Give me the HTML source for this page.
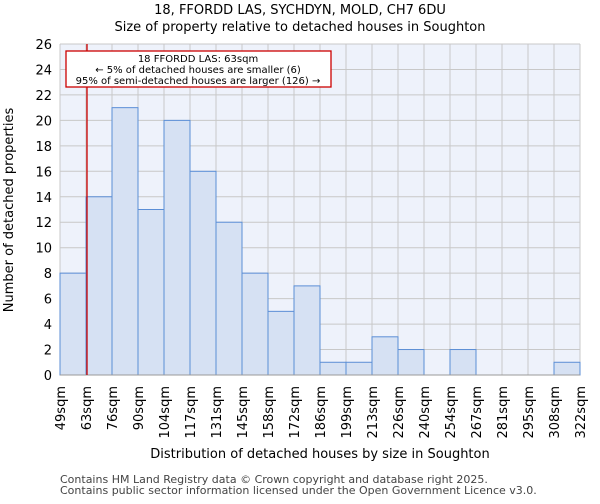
<!DOCTYPE html>
<html><head><meta charset="utf-8"><style>
body{margin:0;background:#fff;font-family:"DejaVu Sans","Liberation Sans",sans-serif}
</style></head><body>
<svg id="chart" width="600" height="500" xmlns="http://www.w3.org/2000/svg" font-family="DejaVu Sans, Liberation Sans, sans-serif">
<text x="300" y="14" text-anchor="middle" font-size="13">18, FFORDD LAS, SYCHDYN, MOLD, CH7 6DU</text>
<text x="300" y="31" text-anchor="middle" font-size="13">Size of property relative to detached houses in Soughton</text>
<rect x="60" y="44" width="520" height="331" fill="#eef2fb"/>
<g id="grid"></g>
<g id="bars"></g>
<g id="yticks"></g>
<g id="xticks"></g>
<line x1="60" y1="375" x2="580" y2="375" stroke="#999"/>
<line id="marker" y1="44" y2="375" stroke="#cc0000" stroke-width="1.3"/>
<g>
<rect x="66" y="51" width="265" height="36" fill="#fff" stroke="#cc0000" stroke-width="1.3"/>
<text x="198" y="62" text-anchor="middle" font-size="10">18 FFORDD LAS: 63sqm</text>
<text x="198" y="73" text-anchor="middle" font-size="10">← 5% of detached houses are smaller (6)</text>
<text x="198" y="84" text-anchor="middle" font-size="10">95% of semi-detached houses are larger (126) →</text>
</g>
<text transform="translate(13,210) rotate(-90)" text-anchor="middle" font-size="13">Number of detached properties</text>
<text x="320" y="458" text-anchor="middle" font-size="13">Distribution of detached houses by size in Soughton</text>
<text x="60" y="483" font-size="11" fill="#444">Contains HM Land Registry data © Crown copyright and database right 2025.</text>
<text x="60" y="494" font-size="11" fill="#444">Contains public sector information licensed under the Open Government Licence v3.0.</text>
</svg>
<script>
const binLabels=["49sqm","63sqm","76sqm","90sqm","104sqm","117sqm","131sqm","145sqm","158sqm","172sqm","186sqm","199sqm","213sqm","226sqm","240sqm","254sqm","267sqm","281sqm","295sqm","308sqm","322sqm"];
const counts=[8,14,21,13,20,16,12,8,5,7,1,1,3,2,0,2,0,0,0,1];
const yTicks=[0,2,4,6,8,10,12,14,16,18,20,22,24,26];
const markerIndex=1;
const NS="http://www.w3.org/2000/svg";
const X0=60,X1=580,Y0=375,Y1=44,YMAX=26;
const bw=(X1-X0)/counts.length;
const xs=i=>X0+i*bw;
const ys=v=>Y0-(v/YMAX)*(Y0-Y1);
function mk(t,a,p){const e=document.createElementNS(NS,t);for(const k in a)e.setAttribute(k,a[k]);p.appendChild(e);return e;}
const grid=document.getElementById('grid'),bars=document.getElementById('bars'),yt=document.getElementById('yticks'),xt=document.getElementById('xticks');
yTicks.forEach(v=>{
 const l=mk('line',{x1:X0,x2:X1,y1:ys(v),y2:ys(v),stroke:'#c8c8c8'},grid);
 
 
 const t=mk('text',{x:X0-8,y:ys(v)+5,'text-anchor':'end','font-size':13},yt);
 t.textContent=v;
 
 
});
binLabels.forEach((lab,i)=>{
 const l=mk('line',{x1:xs(i),x2:xs(i),y1:Y1,y2:Y0,stroke:'#c8c8c8'},grid);
 
 
 const t=mk('text',{transform:`translate(${xs(i)+5},386) rotate(-90)`,'text-anchor':'end','font-size':13},xt);
 t.textContent=lab;
 
 
});
counts.forEach((c,i)=>{
 if(c<=0)return;
 const r=mk('rect',{x:xs(i),y:ys(c),width:bw,height:Y0-ys(c),fill:'#d6e1f3',stroke:'#5b8ed6','stroke-width':1},bars);
 
 
});
const m=document.getElementById('marker');
m.setAttribute('x1',xs(markerIndex)+1);m.setAttribute('x2',xs(markerIndex)+1);
</script>
</body></html>
